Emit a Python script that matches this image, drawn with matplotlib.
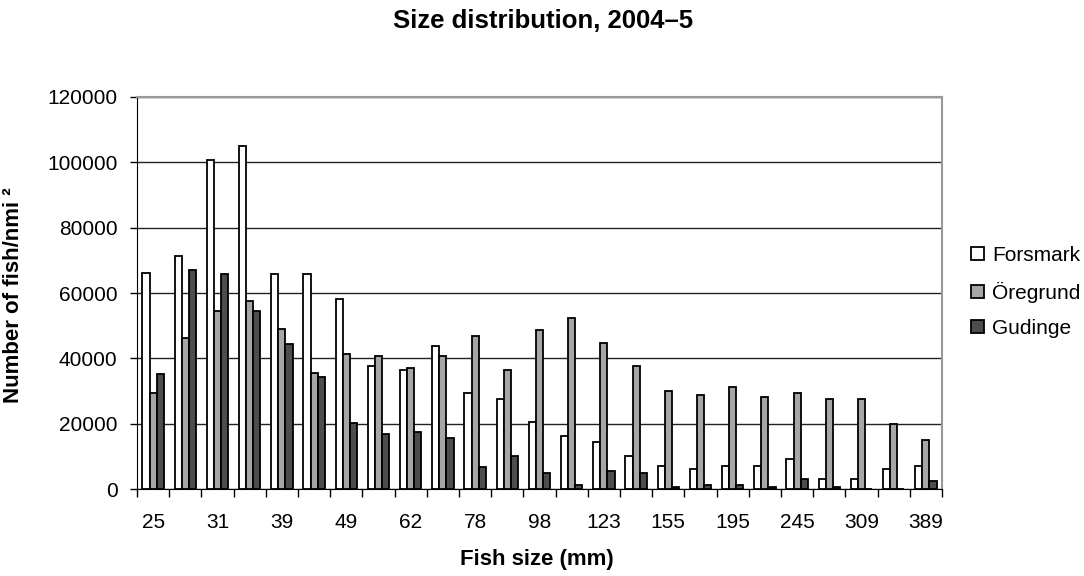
import numpy as np
import matplotlib.pyplot as plt

plt.rcParams['font.family'] = ['Liberation Sans', 'DejaVu Sans']

# Size classes (mm); only every other one is labelled on the axis
storlek = ["25", "28", "31", "35", "39", "44", "49", "55", "62", "70", "78", "88", "98",
           "110", "123", "139", "155", "175", "195", "220", "245", "275", "309", "347", "389"]

forsmark = [66000, 71300, 100700, 104900, 65900, 65900, 58100, 37800, 36500, 43700,
            29400, 27600, 20400, 16200, 14300, 10200, 7200, 6000, 7200, 7200,
            9100, 3100, 3100, 6000, 7200]
oregrund = [29300, 46300, 54400, 57600, 49100, 35400, 41300, 40700, 37100, 40700,
            46800, 36500, 48600, 52200, 44800, 37700, 30000, 28900, 31200, 28200,
            29400, 27600, 27600, 19800, 15000]
gudinge = [35300, 67100, 65900, 54600, 44300, 34200, 20300, 16800, 17400, 15600,
           6600, 10200, 4800, 1100, 5400, 4800, 600, 1200, 1200, 600,
           3100, 600, 0, 0, 2400]

fig = plt.figure(figsize=(10.84, 5.76), dpi=100)
ax = fig.add_axes([0.1264, 0.151, 0.7426, 0.6806])

x = np.arange(len(storlek))
w = 0.222
kw = dict(width=w, edgecolor='black', linewidth=1.3, zorder=3)
ax.bar(x - w, forsmark, color='white', label='Forsmark', **kw)
ax.bar(x, oregrund, color='#a6a6a6', label='Öregrund', **kw)
ax.bar(x + w, gudinge, color='#4d4d4d', label='Gudinge', **kw)

ax.set_xlim(-0.5, len(storlek) - 0.5)
ax.set_ylim(0, 120000)
ax.set_yticks(np.arange(0, 120001, 20000))
ax.tick_params(axis='y', labelsize=15, length=5, width=1, pad=9)

# labels at centres, tick marks between groups
ax.set_xticks(x[::2])
ax.set_xticklabels(storlek[::2])
ax.tick_params(axis='x', which='major', length=0, labelsize=15, pad=17)
ax.set_xticks(np.arange(len(storlek) + 1) - 0.5, minor=True)
ax.tick_params(axis='x', which='minor', length=6, width=1)

ax.grid(axis='y', color='#222222', linewidth=1, zorder=0)
ax.spines['top'].set_color('#999999')
ax.spines['right'].set_color('#999999')
ax.spines['top'].set_linewidth(1.5)
ax.spines['right'].set_linewidth(1.5)

fig.text(543 / 1084, 1 - 21 / 576, "Size distribution, 2004–5", ha='center', va='center',
         fontsize=18.5, fontweight='bold')
fig.text(537 / 1084, 1 - 560 / 576, "Fish size (mm)", ha='center', va='center',
         fontsize=16, fontweight='bold')
fig.text(14 / 1084, 1 - 295 / 576, "Number of fish/nmi ²", ha='center', va='center',
         rotation=90, fontsize=16, fontweight='bold')

fig.legend(loc='center left', bbox_to_anchor=(971 / 1084, 1 - 292 / 576), frameon=False,
           fontsize=15, handlelength=0.6, handleheight=0.6, handletextpad=0.4,
           labelspacing=0.78, borderaxespad=0, borderpad=0)

plt.savefig("out.png", dpi=100)
plt.close(fig)
